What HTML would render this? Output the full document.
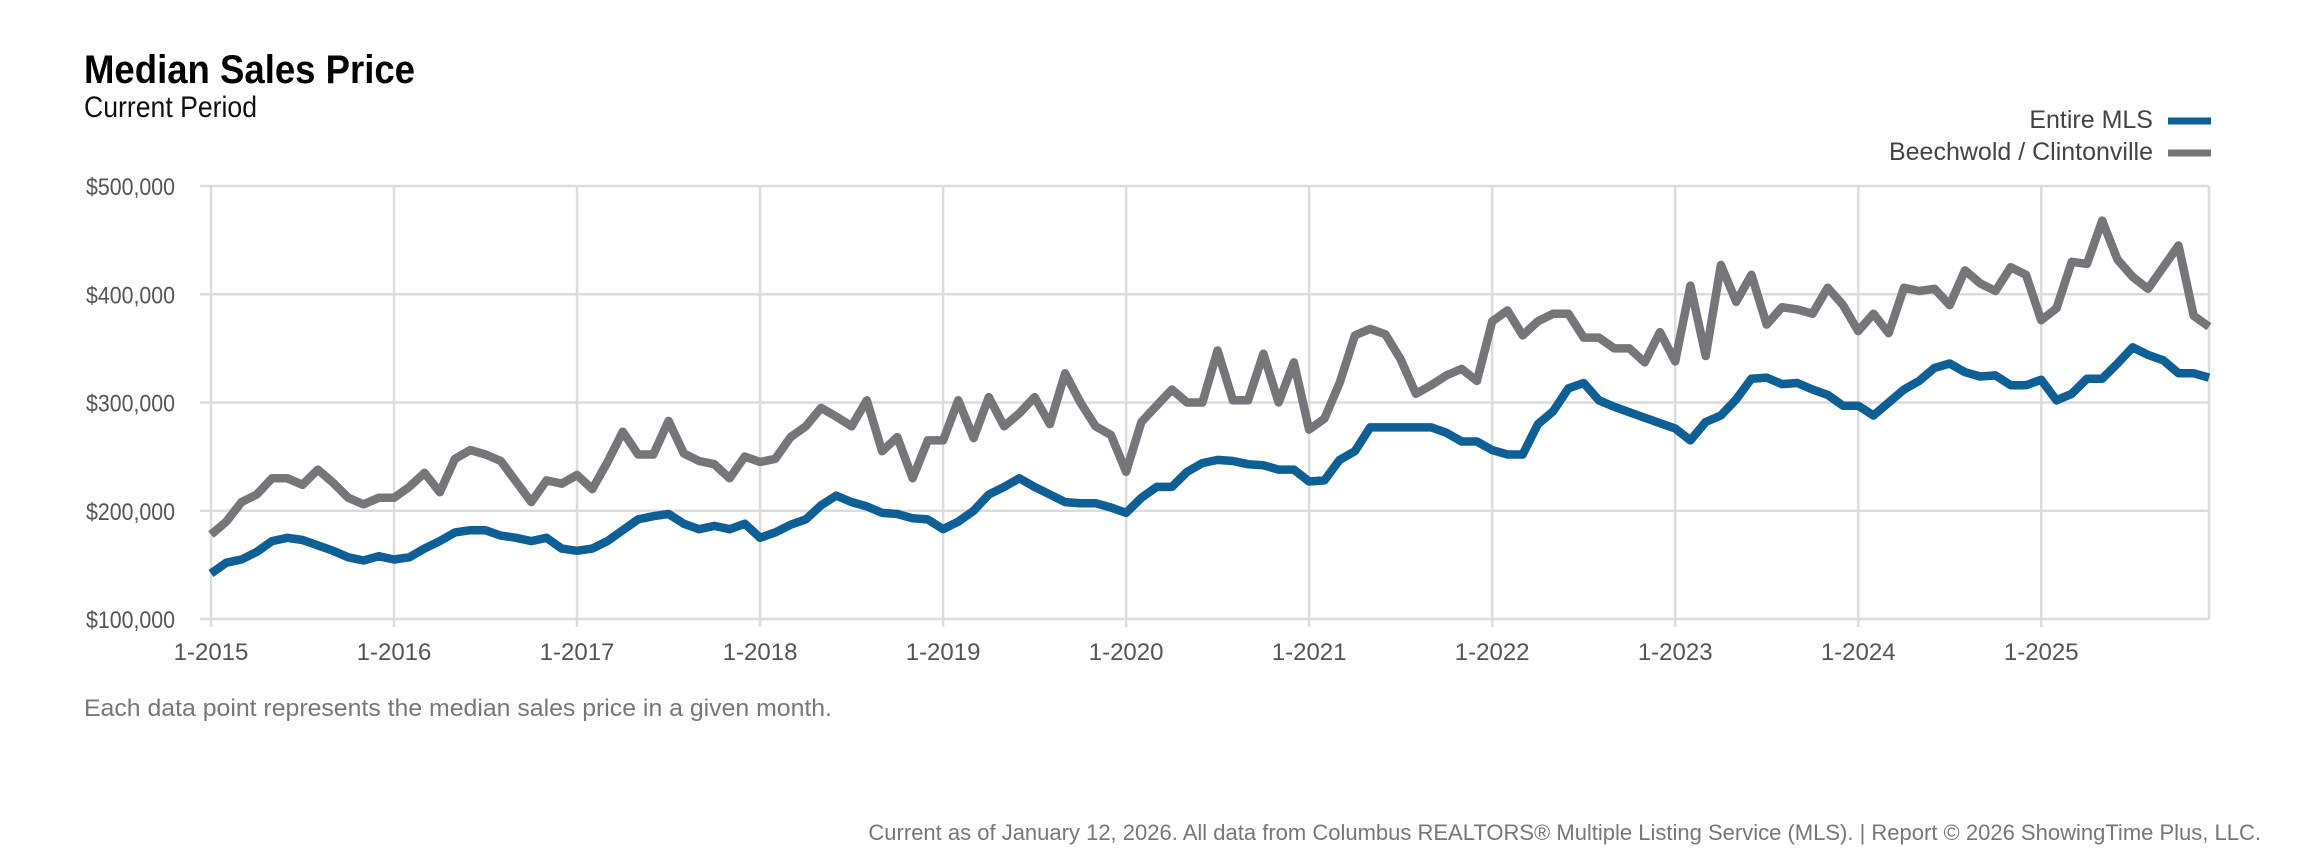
<!DOCTYPE html>
<html><head><meta charset="utf-8"><style>
html,body{margin:0;padding:0;background:#fff;}
svg{display:block;}
text{font-family:"Liberation Sans Narrow","Liberation Sans",sans-serif;}
</style></head><body>
<svg id="c" width="2317" height="866" viewBox="0 0 2317 866" xmlns="http://www.w3.org/2000/svg">
<text x="84" y="83" font-size="40" font-weight="bold" fill="#000" textLength="331" lengthAdjust="spacingAndGlyphs">Median Sales Price</text>
<text x="84" y="117" font-size="30" fill="#111" textLength="173" lengthAdjust="spacingAndGlyphs">Current Period</text>
<g font-size="25" fill="#444" text-anchor="end">
<text x="2153" y="128">Entire MLS</text>
<text x="2153" y="160">Beechwold / Clintonville</text>
</g>
<line x1="2168" y1="121" x2="2211" y2="121" stroke="#0e5f96" stroke-width="7"/>
<line x1="2168" y1="153" x2="2211" y2="153" stroke="#76767a" stroke-width="7"/>
<g id="grid" stroke="#dcdcdc" stroke-width="2.5"></g>
<g id="lab" font-size="24" fill="#555"></g>
<polyline id="g" fill="none" stroke="#76767a" stroke-width="8.5" stroke-linejoin="round"/>
<polyline id="b" fill="none" stroke="#0e5f96" stroke-width="8.5" stroke-linejoin="round"/>
<text x="84" y="716" font-size="24" fill="#777" textLength="748" lengthAdjust="spacingAndGlyphs">Each data point represents the median sales price in a given month.</text>
<text x="2261" y="840" font-size="22" fill="#777" text-anchor="end">Current as of January 12, 2026. All data from Columbus REALTORS® Multiple Listing Service (MLS). | Report © 2026 ShowingTime Plus, LLC.</text>
</svg>
<script>
var L=211,R=2209,T=186,B=619,dx=(R-L)/131;
function Y(v){return B-(v-100)*(B-T)/400;}
var ns="http://www.w3.org/2000/svg",grid=document.getElementById('grid'),lab=document.getElementById('lab');
function el(p,t,a,txt){var e=document.createElementNS(ns,t);for(var k in a)e.setAttribute(k,a[k]);if(txt)e.textContent=txt;p.appendChild(e);}
var yl=['$100,000','$200,000','$300,000','$400,000','$500,000'];
for(var i=0;i<5;i++){var y=Y(100+i*100);el(grid,'line',{x1:200,x2:R,y1:y,y2:y});el(lab,'text',{x:175,y:y+9,'text-anchor':'end',textLength:89,lengthAdjust:'spacingAndGlyphs'},yl[i]);}
for(var k=0;k<11;k++){var x=L+12*k*dx;el(grid,'line',{x1:x,x2:x,y1:T,y2:B+8});el(lab,'text',{x:x,y:660,'text-anchor':'middle'},'1-'+(2015+k));}
el(grid,'line',{x1:R,x2:R,y1:T,y2:B});
var b=[142,152,155,162,172,175,173,168,163,157,154,158,155,157,165,172,180,182,182,177,175,172,175,165,163,165,172,182,192,195,197,188,183,186,183,188,175,180,187,192,205,214,208,204,198,197,193,192,183,190,200,215,222,230,222,215,208,207,207,203,198,212,222,222,236,244,247,246,243,242,238,238,227,228,247,255,277,277,277,277,277,272,264,264,256,252,252,280,292,313,318,302,296,291,286,281,276,265,282,288,303,322,323,317,318,312,307,297,297,288,300,312,320,332,336,328,324,325,316,316,321,302,308,322,322,336,351,344,339,327,327,323];
var g=[178,190,208,215,230,230,224,238,226,212,206,212,212,222,235,217,248,256,252,246,227,208,228,225,233,220,245,273,252,252,283,253,246,243,230,250,245,248,268,278,295,287,278,302,255,268,230,265,265,302,267,305,278,290,305,280,327,300,278,270,236,282,297,312,300,300,348,302,302,345,300,337,275,285,318,362,368,363,340,308,316,325,331,320,375,385,362,375,382,382,360,360,350,350,337,365,338,408,343,427,393,418,372,388,386,382,406,390,366,382,364,406,403,405,390,422,410,403,425,418,376,387,430,428,468,432,416,405,425,445,380,370];
function pts(a){return a.map(function(v,i){return (L+i*dx).toFixed(1)+','+Y(v).toFixed(1);}).join(' ');}
document.getElementById('b').setAttribute('points',pts(b));
document.getElementById('g').setAttribute('points',pts(g));
</script>
</body></html>
